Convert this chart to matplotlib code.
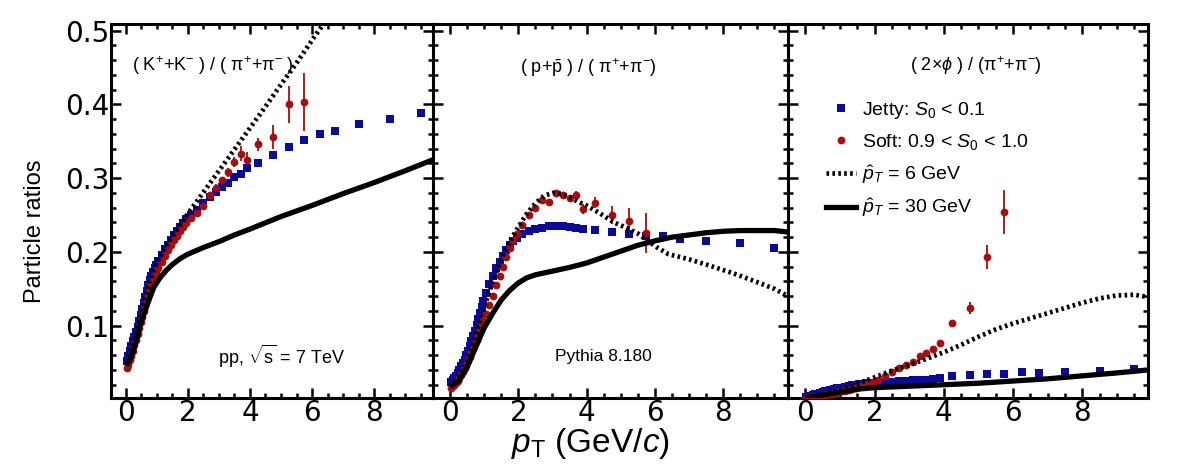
import matplotlib
matplotlib.use("Agg")
import matplotlib.pyplot as plt
from matplotlib.ticker import MultipleLocator
from matplotlib.lines import Line2D

plt.rcParams['font.family'] = ['Liberation Sans', 'DejaVu Sans']
plt.rcParams['mathtext.fontset'] = 'custom'
plt.rcParams['mathtext.rm'] = 'Liberation Sans'
plt.rcParams['mathtext.it'] = 'Liberation Sans:italic'
plt.rcParams['mathtext.bf'] = 'Liberation Sans:bold'

# ---------------- data ----------------
pt_bins = [0.025, 0.075, 0.125, 0.175, 0.225, 0.275, 0.325, 0.375, 0.425, 0.475,
           0.525, 0.575, 0.625, 0.675, 0.725, 0.775, 0.825, 0.875, 0.925, 0.975,
           1.05, 1.15, 1.25, 1.35, 1.45, 1.55, 1.65, 1.75, 1.85, 1.95,
           2.1, 2.3, 2.5, 2.7, 2.9, 3.1, 3.3, 3.5, 3.7, 3.9,
           4.25, 4.75, 5.25, 5.75, 6.25, 6.75, 7.5, 8.5, 9.5]
pt_soft = pt_bins[:44]

# K/pi
kpi_jetty = [0.052, 0.059, 0.066, 0.073, 0.079, 0.085, 0.091, 0.098, 0.106, 0.114,
             0.122, 0.131, 0.139, 0.147, 0.155, 0.162, 0.168, 0.173, 0.178, 0.182,
             0.188, 0.196, 0.204, 0.210, 0.216, 0.223, 0.229, 0.234, 0.239, 0.244,
             0.250, 0.257, 0.266, 0.274, 0.281, 0.288, 0.294, 0.301, 0.306, 0.314,
             0.321, 0.331, 0.342, 0.352, 0.360, 0.364, 0.374, 0.380, 0.388]
kpi_soft = [0.042, 0.047, 0.053, 0.059, 0.066, 0.074, 0.081, 0.089, 0.097, 0.105,
            0.112, 0.120, 0.128, 0.135, 0.142, 0.149, 0.155, 0.161, 0.166, 0.171,
            0.178, 0.187, 0.195, 0.202, 0.209, 0.216, 0.222, 0.228, 0.234, 0.239,
            0.246, 0.253, 0.262, 0.277, 0.287, 0.297, 0.308, 0.322, 0.333, 0.325,
            0.346, 0.356, 0.400, 0.403]
kpi_soft_err = [0.002] * 30 + [0.003, 0.003, 0.004, 0.004, 0.005, 0.005, 0.006, 0.007, 0.010, 0.010,
                               0.009, 0.016, 0.025, 0.039]
kpi_x6 = [0.02, 0.2, 0.4, 0.6, 0.8, 1.0, 1.25, 1.5, 1.75, 2.0, 2.5, 3.0, 3.5, 4.0, 4.5, 5.0, 5.5, 6.0, 6.5]
kpi_y6 = [0.050, 0.072, 0.100, 0.135, 0.163, 0.185, 0.205, 0.221, 0.236, 0.252, 0.281, 0.310,
          0.339, 0.368, 0.397, 0.427, 0.456, 0.487, 0.517]
kpi_x30 = [0.02, 0.2, 0.35, 0.5, 0.7, 0.9, 1.1, 1.3, 1.5, 1.75, 2.0, 2.5, 3.0, 3.5, 4.0, 5.0,
           6.0, 7.0, 8.0, 9.0, 9.9]
kpi_y30 = [0.046, 0.060, 0.082, 0.106, 0.130, 0.152, 0.165, 0.175, 0.183, 0.191, 0.197, 0.206,
           0.214, 0.223, 0.231, 0.248, 0.263, 0.279, 0.294, 0.310, 0.325]

# p/pi
ppi_jetty = [0.024, 0.026, 0.029, 0.032, 0.036, 0.040, 0.045, 0.049, 0.054, 0.060,
             0.066, 0.072, 0.079, 0.086, 0.093, 0.101, 0.109, 0.117, 0.125, 0.133,
             0.144, 0.156, 0.167, 0.178, 0.187, 0.195, 0.202, 0.209, 0.215, 0.219,
             0.224, 0.228, 0.231, 0.233, 0.235, 0.235, 0.235, 0.234, 0.233, 0.231,
             0.230, 0.227, 0.224, 0.222, 0.222, 0.218, 0.215, 0.212, 0.206]
ppi_soft = [0.016, 0.018, 0.020, 0.022, 0.025, 0.029, 0.033, 0.037, 0.042, 0.047,
            0.052, 0.058, 0.063, 0.069, 0.075, 0.081, 0.088, 0.094, 0.101, 0.107,
            0.116, 0.128, 0.140, 0.155, 0.167, 0.179, 0.193, 0.206, 0.216, 0.224,
            0.236, 0.250, 0.259, 0.270, 0.268, 0.280, 0.277, 0.273, 0.277, 0.258,
            0.267, 0.250, 0.242, 0.226]
ppi_soft_err = [0.002] * 33 + [0.003, 0.003, 0.003, 0.003, 0.004, 0.006, 0.007,
                               0.008, 0.012, 0.018, 0.027]
ppi_x6 = [0.0, 0.25, 0.5, 0.75, 1.0, 1.25, 1.5, 1.75, 2.0, 2.25, 2.5, 2.75, 3.0, 3.25, 3.5, 3.75,
          4.0, 4.4, 4.8, 5.2, 5.5, 5.8, 6.1, 6.4, 7.0, 7.5, 8.3, 9.0, 9.5, 9.9]
ppi_y6 = [0.018, 0.030, 0.050, 0.085, 0.125, 0.160, 0.190, 0.214, 0.234, 0.252, 0.266, 0.276,
          0.280, 0.279, 0.274, 0.268, 0.263, 0.252, 0.240, 0.232, 0.225, 0.215, 0.205, 0.197,
          0.190, 0.183, 0.171, 0.159, 0.150, 0.140]
ppi_x30 = [0.0, 0.25, 0.5, 0.75, 1.0, 1.25, 1.5, 1.75, 2.0, 2.25, 2.5, 3.0, 3.5, 4.0, 4.5, 5.0,
           5.5, 6.0, 6.5, 7.0, 7.5, 8.0, 8.5, 9.0, 9.5, 9.9]
ppi_y30 = [0.017, 0.025, 0.044, 0.071, 0.097, 0.117, 0.135, 0.148, 0.158, 0.165, 0.169, 0.174,
           0.179, 0.185, 0.193, 0.201, 0.209, 0.215, 0.220, 0.223, 0.226, 0.228, 0.229, 0.229,
           0.229, 0.227]

# 2phi/pi
phi_jetty = [0.004, 0.004, 0.005, 0.005, 0.006, 0.007, 0.007, 0.008, 0.009, 0.009,
             0.010, 0.011, 0.011, 0.012, 0.013, 0.013, 0.014, 0.014, 0.015, 0.015,
             0.016, 0.017, 0.018, 0.019, 0.020, 0.021, 0.021, 0.022, 0.022, 0.023,
             0.023, 0.024, 0.024, 0.025, 0.025, 0.026, 0.026, 0.027, 0.028, 0.029,
             0.032, 0.033, 0.034, 0.035, 0.037, 0.036, 0.037, 0.039, 0.041]
phi_soft = [0.002, 0.002, 0.002, 0.003, 0.003, 0.003, 0.004, 0.004, 0.005, 0.005,
            0.006, 0.006, 0.007, 0.007, 0.008, 0.008, 0.009, 0.009, 0.010, 0.010,
            0.011, 0.012, 0.013, 0.014, 0.016, 0.017, 0.018, 0.020, 0.022, 0.024,
            0.027, 0.032, 0.037, 0.042, 0.047, 0.051, 0.059, 0.063, 0.068, 0.076,
            0.104, 0.124, 0.193, 0.254]
phi_soft_err = [0.001] * 35 + [0.002, 0.002, 0.002, 0.003, 0.003,
                               0.004, 0.008, 0.016, 0.030]
phi_x6 = [0.0, 0.5, 1.0, 1.5, 2.0, 2.5, 3.0, 3.5, 4.0, 4.5, 5.0, 5.5, 6.0, 6.5, 7.0, 7.5, 8.0,
          8.5, 9.0, 9.5, 9.9]
phi_y6 = [0.002, 0.007, 0.013, 0.021, 0.030, 0.039, 0.047, 0.055, 0.064, 0.074, 0.085, 0.095,
          0.103, 0.110, 0.117, 0.124, 0.131, 0.137, 0.141, 0.142, 0.139]
phi_x30 = [0.0, 0.5, 1.0, 1.5, 2.0, 2.5, 3.0, 4.0, 5.0, 6.0, 7.0, 8.0, 9.0, 9.9]
phi_y30 = [0.002, 0.006, 0.010, 0.014, 0.016, 0.017, 0.018, 0.020, 0.022, 0.025, 0.028, 0.032,
           0.036, 0.040]

panel_titles = [r"( K$^{+}$+K$^{-}$ ) / ( π$^{+}$+π$^{-}$ )",
                r"( p+$\bar{\rm p}$ ) / ( π$^{+}$+π$^{-}$)",
                r"( 2$\times\phi$ ) / (π$^{+}$+π$^{-}$)"]
legend_labels = [r"Jetty: $S_{0}$ < 0.1", r"Soft: 0.9 < $S_{0}$ < 1.0",
                 r"$\hat{p}_{T}$ = 6 GeV", r"$\hat{p}_{T}$ = 30 GeV"]

BLUE = '#0a0a9e'
RED = '#a80c0c'

W, H = 1182, 467
fig = plt.figure(figsize=(W / 100, H / 100), dpi=100)

def px_axes(x0, x1, y0, y1):
    return fig.add_axes([x0 / W, (H - y1) / H, (x1 - x0) / W, (y1 - y0) / H])

ax1 = px_axes(111, 433, 24, 398)
ax2 = px_axes(433, 788, 24, 398)
ax3 = px_axes(788, 1148, 24, 398)
axes = [ax1, ax2, ax3]

datasets = [
    (kpi_jetty, kpi_soft, kpi_soft_err, kpi_x6, kpi_y6, kpi_x30, kpi_y30),
    (ppi_jetty, ppi_soft, ppi_soft_err, ppi_x6, ppi_y6, ppi_x30, ppi_y30),
    (phi_jetty, phi_soft, phi_soft_err, phi_x6, phi_y6, phi_x30, phi_y30),
]

dot_style = (0, (0.55, 0.7))
for ax, (jet, soft, serr, x6, y6, x30, y30) in zip(axes, datasets):
    ax.errorbar(pt_soft, soft, yerr=serr, fmt='o', color=RED, ms=5.6, mew=0,
                elinewidth=1.3, capsize=0, zorder=3)
    ax.plot(pt_bins, jet, 's', color=BLUE, ms=5.4, mew=0, zorder=3)
    ax.plot(x6, y6, color='black', lw=3.4, linestyle=dot_style, zorder=4)
    ax.plot(x30, y30, color='black', lw=3.8, solid_capstyle='butt', zorder=4)
    ax.set_xlim(-0.5, 9.9)
    ax.set_ylim(0.002, 0.509)
    ax.xaxis.set_major_locator(MultipleLocator(2))
    ax.xaxis.set_minor_locator(MultipleLocator(0.5))
    ax.yaxis.set_major_locator(MultipleLocator(0.1))
    ax.yaxis.set_minor_locator(MultipleLocator(0.02))
    ax.tick_params(which='both', direction='in', top=True, right=True, width=1.8,
                   labelsize=20, pad=1)
    ax.tick_params(which='major', length=7)
    ax.tick_params(which='minor', length=3.5)
    for lab in ax.get_xticklabels() + ax.get_yticklabels():
        lab.set_family('DejaVu Sans')
    for sp in ax.spines.values():
        sp.set_linewidth(2.2)
    if ax is not ax1:
        ax.tick_params(labelleft=False)

ax1.set_xlim(-0.48, 9.9)

title_pos = [(0.317, 0.888), (0.437, 0.882), (0.522, 0.888)]
for ax, t, (tx, ty) in zip(axes, panel_titles, title_pos):
    ax.text(tx, ty, t, transform=ax.transAxes, ha='center', va='center', fontsize=13)

ax1.text(0.531, 0.112, r"pp, $\sqrt{\rm s}$ = 7 TeV", transform=ax1.transAxes,
         ha='center', va='center', fontsize=13)
ax2.text(0.479, 0.110, "Pythia 8.180", transform=ax2.transAxes,
         ha='center', va='center', fontsize=12.5)

handles = [Line2D([], [], marker='s', color=BLUE, ls='none', ms=5.4, mew=0),
           Line2D([], [], marker='o', color=RED, ls='none', ms=5.6, mew=0),
           Line2D([], [], color='black', lw=3.4, linestyle=dot_style),
           Line2D([], [], color='black', lw=3.8)]
ax3.legend(handles, legend_labels, loc='upper left', bbox_to_anchor=(0.105, 0.797),
           frameon=False, fontsize=14, handlelength=1.55, handletextpad=0.33,
           labelspacing=0.56, borderpad=0, borderaxespad=0)

fig.text(35 / W, 1 - 231 / H, "Particle ratios", rotation=90, ha='center', va='center',
         fontsize=17)
fig.text(590 / W, 1 - 452 / H, r"$p_{\rm T}$ (GeV/$c$)", ha='center', va='baseline',
         fontsize=24)

fig.savefig('out.png', dpi=100)
